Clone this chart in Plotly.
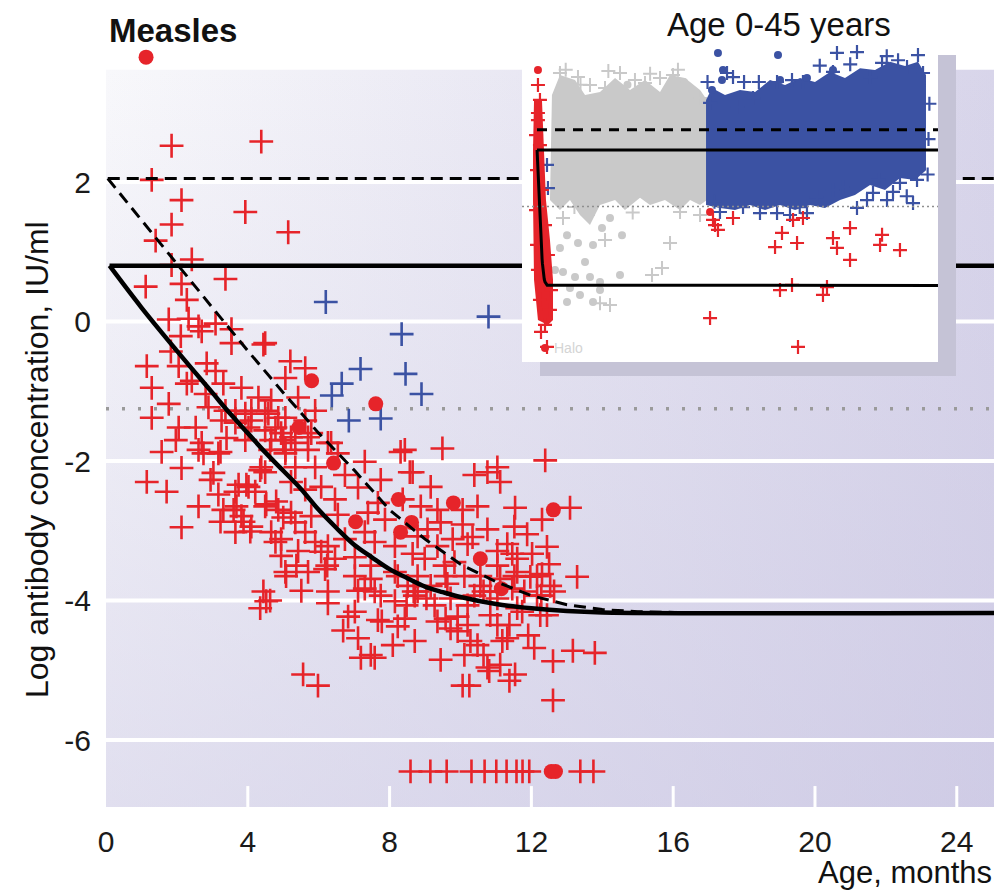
import plotly.graph_objects as go

FONT = "Liberation Sans, Arial, sans-serif"
RED = "#e6242a"
BLUE = "#3b52a3"
GRAY = "#c9c9c9"

# ---------------- main panel: (age in months, log antibody IU/ml) ----------------
cross_points = [
    (1.85, 2.52), (4.38, 2.58), (1.29, 2.03), (2.13, 1.74), (3.93, 1.57), (1.85, 1.39), (5.14, 1.28),
    (1.40, 1.16), (2.42, 0.89), (1.85, 0.81), (3.37, 0.61), (1.12, 0.50), (2.13, 0.54), (2.28, 0.31),
    (1.77, 0.03), (2.33, 0.04), (3.09, -0.03), (3.54, -0.11), (4.49, -0.31), (2.11, -0.21), (2.70, -0.14),
    (2.61, -0.07), (3.54, -0.31), (4.44, -0.33), (1.83, -0.43), (1.15, -0.64), (2.05, -0.64), (2.84, -0.60),
    (3.09, -0.71), (2.42, -0.85), (1.29, -0.95), (2.28, -0.89), (3.31, -0.89), (2.81, -1.04), (3.82, -0.95),
    (5.20, -0.57), (5.62, -0.67), (5.06, -0.81), (4.30, -1.09), (4.66, -1.13), (5.42, -1.09), (5.90, -1.28),
    (1.77, -1.18), (1.29, -1.38), (2.05, -1.52), (2.89, -1.23), (3.37, -1.28), (3.93, -1.32), (4.49, -1.28),
    (5.06, -1.38), (2.53, -1.52), (3.26, -1.42), (3.65, -1.45), (4.10, -1.42), (4.78, -1.52), (5.62, -1.42),
    (1.97, -1.70), (2.70, -1.74), (3.93, -1.70), (4.66, -1.70), (5.22, -1.66), (5.79, -1.60), (1.57, -1.87),
    (2.61, -1.84), (3.17, -1.89), (5.06, -1.84), (6.35, -1.74), (6.54, -1.89),
    (2.75, -1.89), (3.23, -1.87), (3.40, -1.67), (2.13, -2.10), (1.15, -2.30), (1.71, -2.44), (3.03, -2.17),
    (2.95, -2.27), (3.17, -2.48), (2.61, -2.65), (3.31, -2.70), (3.68, -2.65), (3.96, -2.34), (3.65, -2.44),
    (3.23, -2.87), (3.88, -2.87), (4.07, -3.01), (2.13, -2.95), (4.52, -2.62), (4.80, -2.58), (5.00, -2.81),
    (4.78, -3.16), (5.08, -3.65), (5.37, -3.50), (4.52, -4.01), (4.44, -3.87), (4.35, -2.13), (4.63, -1.84),
    (5.00, -1.70),
    (3.65, -1.28), (4.10, -1.28), (4.58, -1.32), (4.86, -1.38), (4.02, -1.52), (4.49, -1.56), (4.94, -1.60),
    (5.70, -1.66), (6.26, -1.74), (5.34, -1.74), (5.06, -1.89), (5.70, -1.84), (4.38, -2.09), (4.49, -2.16),
    (5.34, -2.09), (5.90, -2.09), (6.74, -2.20), (7.30, -2.01), (8.31, -1.87), (8.57, -2.16), (3.74, -2.34),
    (4.02, -2.37), (4.21, -2.44), (5.22, -2.30), (5.62, -2.41), (6.07, -2.37), (6.46, -2.55), (7.11, -2.38),
    (7.75, -2.27), (7.67, -2.60), (3.60, -2.70), (3.82, -2.79), (4.10, -2.94), (4.49, -2.65), (4.86, -2.70),
    (5.22, -2.74), (5.34, -2.88), (5.79, -2.79), (6.54, -2.77), (7.39, -2.74), (7.87, -2.84), (8.88, -2.65),
    (3.65, -3.02), (4.66, -3.02), (4.94, -3.12), (5.62, -3.02), (5.90, -3.16), (6.26, -3.22), (6.74, -3.12),
    (7.30, -3.02), (7.58, -3.16), (8.15, -3.22), (8.79, -3.08), (4.94, -3.36), (5.42, -3.29), (6.07, -3.30),
    (6.46, -3.40), (7.02, -3.38), (7.47, -3.50), (5.06, -3.59), (5.70, -3.59), (6.18, -3.55), (7.02, -3.65),
    (7.47, -3.69), (8.15, -3.59), (8.51, -3.79), (5.51, -3.86), (6.26, -3.87), (7.11, -3.86), (7.75, -3.93),
    (8.71, -3.93),
    (8.43, -1.84), (9.49, -1.82), (12.39, -1.99), (8.65, -2.16), (9.16, -2.37), (10.39, -2.20), (10.76, -2.16),
    (11.04, -2.09), (11.12, -2.30), (8.37, -2.55), (10.48, -2.65), (10.06, -2.70), (11.54, -2.67), (13.09, -2.67),
    (9.44, -2.88), (11.52, -2.94), (10.34, -3.09), (10.20, -3.19), (11.04, -3.29), (11.46, -3.33), (12.44, -3.23),
    (13.29, -3.66), (12.30, -3.62), (9.35, -3.22), (9.83, -3.45), (11.04, -3.50), (11.52, -3.65), (11.97, -3.66),
    (12.53, -3.79), (9.55, -3.50), (8.99, -3.40), (8.79, -3.65), (9.16, -3.79), (10.11, -3.65), (10.56, -3.79),
    (12.16, -3.93), (12.64, -3.87), (10.39, -3.93), (9.72, -3.97), (9.27, -4.07),
    (6.26, -4.04), (6.69, -4.43), (6.83, -4.23), (7.02, -4.16), (7.11, -4.54), (7.19, -4.82), (7.47, -4.78),
    (7.58, -4.82), (7.67, -4.28), (8.09, -4.64), (8.71, -4.58), (8.23, -4.37), (8.43, -4.26), (7.30, -3.83),
    (8.15, -4.01), (8.79, -3.87), (9.35, -4.30), (9.72, -4.40), (9.44, -4.85), (10.11, -4.78), (5.56, -5.06),
    (5.98, -5.22), (10.06, -5.22), (10.25, -5.22), (9.92, -4.23), (10.28, -4.58),
    (4.35, -4.11), (4.63, -4.00), (6.24, -3.50), (7.78, -4.30), (8.48, -4.07), (10.65, -4.78), (10.81, -5.01),
    (11.38, -5.15), (11.54, -5.06), (12.08, -4.68), (12.61, -4.87), (12.61, -5.43), (13.17, -4.72), (13.79, -4.75),
    (11.91, -4.50), (11.38, -4.35), (11.18, -4.58), (9.92, -4.44), (9.58, -4.26), (9.04, -3.97), (10.65, -3.87),
    (11.74, -4.16), (12.44, -4.21), (12.28, -3.93), (8.23, -3.65), (7.58, -3.87), (9.58, -3.65), (8.68, -3.87),
    (11.12, -4.92), (10.76, -4.96), (11.04, -4.35), (11.32, -4.54), (10.20, -4.35), (10.48, -4.64), (12.25, -4.21),
    (11.60, -4.11), (10.84, -4.21), (10.20, -4.07), (11.60, -3.59), (12.16, -3.65), (11.12, -3.69), (10.56, -3.65),
    (10.84, -3.87), (11.80, -3.87),
    (9.07, -2.98), (9.78, -3.12), (10.76, -2.98), (11.32, -3.19), (11.88, -3.05), (12.30, -2.84), (9.35, -2.70),
    (10.06, -2.91), (11.60, -3.40), (12.02, -3.33), (12.50, -3.48), (8.65, -3.33), (9.63, -3.76), (11.04, -3.97),
    (11.46, -3.83),
]
blue_cross_points = [
    (6.20, 0.28), (10.79, 0.07), (8.34, -0.18), (7.18, -0.68), (8.45, -0.75),
    (6.65, -0.89), (6.37, -1.06), (8.90, -1.04), (6.85, -1.42), (7.75, -1.39),
]
red_dot_points = [
    (5.80, -0.85), (7.61, -1.18), (5.44, -1.52), (6.42, -2.03), (8.25, -2.55), (8.62, -2.88), (8.31, -3.02),
    (7.04, -2.87), (9.80, -2.60), (12.62, -2.70), (10.56, -3.40), (11.15, -3.83),
]
measles_point = (1.13, 3.79)
undetectable_level = -6.45
undetectable_cross_age = [8.59, 9.15, 9.61, 10.31, 10.68, 11.01, 11.30, 11.58, 11.75, 11.94, 13.38, 13.75]
undetectable_dot_age = [12.56, 12.68]

curve_age = [0.1, 1, 2, 3, 3.5, 4, 4.5, 5, 5.5, 6, 6.5, 7, 7.5, 8, 8.5, 9, 9.5, 10, 11, 12, 13, 14, 25.05]
curve_log = [0.8, 0.2, -0.42, -1.02, -1.32, -1.6, -1.88, -2.14, -2.4, -2.7, -2.96, -3.2, -3.38, -3.55,
             -3.68, -3.8, -3.88, -3.95, -4.05, -4.11, -4.15, -4.17, -4.18]
dashed_age = [0.05, 1, 2, 3, 4, 5, 6, 7, 8, 9, 10, 11, 12, 13, 14, 15, 16.8]
dashed_log = [2.05, 1.45, 0.83, 0.2, -0.42, -1.02, -1.6, -2.13, -2.7, -3.12, -3.48, -3.73, -3.93, -4.06,
              -4.13, -4.16, -4.18]
upper_solid = 0.8
upper_dashed = 2.05
threshold = -1.25

x_ticks = [0, 4, 8, 12, 16, 20, 24]
y_ticks = [2, 0, -2, -4, -6]
y_tick_text = ["2", "0", "-2", "-4", "-6"]

# ---------------- inset: (age in years, log antibody) ----------------
gray_block = [
    (1.72, 2.82), (2.64, 3.56), (4.37, 3.37), (5.52, 2.82), (7.24, 2.93), (8.97, 3.45), (10.69, 3.01),
    (12.41, 3.37), (14.14, 2.93), (15.29, 3.56), (17.01, 3.45), (18.74, 3.01), (19.54, 2.64), (19.54, -1.04),
    (18.74, -1.22), (17.59, -1.04), (16.44, -1.41), (14.71, -1.04), (12.99, -1.22), (11.84, -0.96),
    (10.11, -1.41), (8.97, -1.04), (7.24, -1.22), (6.09, -1.96), (4.94, -1.59), (3.79, -1.04), (2.64, -1.41),
    (1.49, -1.04),
]
gray_dots = [
    (3.45, -2.33), (4.71, -2.62), (6.44, -2.69), (7.47, -2.07), (8.39, -1.70), (9.77, -2.33), (2.64, -2.80),
    (2.99, -3.69), (4.37, -3.87), (6.09, -3.87), (7.24, -4.05), (9.54, -3.80), (3.79, -4.27), (4.94, -4.53),
    (3.45, -4.79), (6.44, -4.79), (7.24, -4.35), (2.07, -3.61), (5.52, -3.32), (16.9, 3.3), (10.4, 3.2),
]
gray_crosses = [
    (2.99, -1.70), (5.86, -1.59), (7.82, -2.51), (15.29, -2.62), (13.22, -3.80), (14.37, -3.54), (7.24, -4.83),
    (16.44, -1.48), (18.74, -1.59), (8.39, -4.90), (2.64, 3.63), (4.71, 3.48), (9.54, 3.63), (11.26, 3.37),
    (12.41, 3.26), (14.14, 3.45), (15.63, 3.56), (17.24, 3.08), (18.74, 2.71), (6.09, 3.19), (7.82, 3.08),
    (3.3, 3.75), (5.0, 3.2), (8.2, 3.7), (13.0, 3.6), (16.2, 3.75), (11.0, -1.5), (4.3, -1.3),
]
blue_block = [
    (19.43, 2.64), (20.11, 3.08), (21.61, 2.82), (23.33, 3.01), (25.06, 2.93), (26.78, 3.37), (28.51, 3.19),
    (30.23, 3.45), (31.95, 3.30), (33.68, 3.67), (35.40, 3.45), (37.13, 3.81), (38.85, 3.74), (40.57, 4.04),
    (42.30, 3.89), (43.79, 4.04), (44.71, 3.56), (44.71, 0.06), (43.45, -0.30), (41.72, -0.23), (40.00, -0.67),
    (38.28, -0.49), (36.55, -0.85), (34.83, -1.04), (33.10, -1.33), (31.38, -1.22), (29.66, -1.41),
    (27.93, -1.22), (26.21, -1.41), (24.48, -1.22), (22.76, -1.41), (21.03, -1.33), (19.43, -1.22),
]
blue_crosses_inset = [
    (34.48, 4.37), (36.78, 4.40), (43.79, 4.29), (42.53, 3.85), (39.66, 4.00), (38.28, 3.48), (34.02, 3.67),
    (27.59, 3.30), (29.31, 3.37), (30.57, 3.30), (22.53, 3.48), (21.84, 3.63), (24.83, 2.71), (19.89, 2.53),
    (22.99, 2.38), (44.37, 3.63), (27.59, -1.52), (31.03, -1.52), (36.78, -1.33), (43.22, -1.15),
    (40.23, -1.04), (40.92, -0.74), (38.62, -0.78), (37.93, -1.04), (41.72, -0.41), (43.68, -0.30),
    (35.17, -0.56), (21.03, -1.48), (23.68, -1.30), (32.18, -0.93), (34.02, -0.67), (29.08, -1.59),
    (25.63, -1.52), (1.15, 0.25), (1.26, -0.60),
    (25.5, 3.3), (32.5, 3.9), (36.0, 3.95), (40.2, 4.25), (41.5, 4.1), (19.6, 3.3), (23.8, 3.3),
    (45.1, 2.5), (45.0, 1.2), (44.9, -0.1), (39.3, -0.3), (42.5, -0.9), (30.2, -1.3), (20.4, -1.1),
]
blue_dots_inset = [
    (20.80, 4.37), (27.70, 4.29), (21.38, 3.74), (21.26, 3.37), (20.11, 3.01), (27.93, 3.37), (31.03, 3.45),
    (34.02, 3.74),
]
red_block_inset = [
    (-0.34, 2.64), (0.57, 2.64), (0.80, 0.80), (1.03, -1.04), (1.49, -2.51), (1.84, -3.98), (1.84, -5.45),
    (1.26, -5.63), (0.11, -5.45), (-0.34, -3.98), (-0.46, -1.04), (-0.46, 0.80),
]
red_crosses_inset = [
    (0.11, 3.19), (0.34, 2.64), (0.11, 2.16), (0.11, 1.90), (-0.11, 1.35), (0.34, 0.98), (0.0, 0.06),
    (0.57, -0.67), (-0.11, -1.41), (0.92, -1.96), (0.0, -2.69), (1.26, -3.06), (0.11, -3.61), (1.61, -4.35),
    (0.34, -4.71), (1.49, -5.08), (0.92, -5.63), (0.46, -5.89), (1.15, -6.44),
    (20.23, -1.77), (20.46, -1.96), (20.80, -2.14), (22.53, -1.70), (29.43, -1.77), (30.57, -1.70),
    (28.16, -2.25), (27.36, -2.77), (29.89, -2.62), (34.02, -2.44), (34.48, -2.80), (35.98, -2.07),
    (35.98, -3.24), (39.66, -2.32), (39.43, -2.69), (41.72, -2.88), (27.93, -4.35), (29.31, -4.16),
    (32.87, -4.53), (33.33, -4.24), (19.89, -5.38), (30.00, -6.44),
]
red_dots_inset = [(0.11, 3.74), (19.89, -1.48), (0.92, -6.48)]
inset_dashed = 1.54
inset_upper = 0.8
inset_lower = -4.18
inset_threshold = -1.28
inset_age_max = 46.09

# ---------------- geometry ----------------
XMAX = 25.05
Y_TOP, Y_BOTTOM = 4.036, -6.96
BG_TOP = 3.61
IX_RANGE = [-1.724, 48.16]
IY_RANGE = [-7.509, 4.697]
BOX = dict(x0=-1.724, x1=46.09, y0=-6.994, y1=4.403)
SHADOW = dict(x0=0.345, x1=48.16, y0=-7.509, y1=4.293)


def unzip(points):
    return [p[0] for p in points], [p[1] for p in points]


def rect(d):
    return [d["x0"], d["x1"], d["x1"], d["x0"], d["x0"]], [d["y0"], d["y0"], d["y1"], d["y1"], d["y0"]]


def segments(values, a, b, horizontal=True):
    xs, ys = [], []
    for v in values:
        if horizontal:
            xs += [a, b, None]
            ys += [v, v, None]
        else:
            xs += [v, v, None]
            ys += [a, b, None]
    return xs, ys


fig = go.Figure()
sk = dict(hoverinfo="skip", showlegend=False)

# background gradient
fig.add_trace(go.Scatter(x=[0, XMAX, XMAX, 0, 0], y=[Y_BOTTOM, Y_BOTTOM, BG_TOP, BG_TOP, Y_BOTTOM],
                         fill="toself", mode="none",
                         fillgradient=dict(type="horizontal", start=0, stop=XMAX,
                                           colorscale=[[0, "#f8f8fb"], [1, "#d8d5ea"]]), **sk))
fig.add_trace(go.Scatter(x=[0, XMAX, XMAX, 0, 0], y=[Y_BOTTOM, Y_BOTTOM, BG_TOP, BG_TOP, Y_BOTTOM],
                         fill="toself", mode="none",
                         fillgradient=dict(type="vertical", start=Y_BOTTOM, stop=BG_TOP,
                                           colorscale=[[0, "rgba(196,192,224,0.45)"],
                                                       [1, "rgba(196,192,224,0)"]]), **sk))
# white grid lines and bottom ticks
gx, gy = segments(y_ticks, 0, XMAX)
fig.add_trace(go.Scatter(x=gx, y=gy, mode="lines", line=dict(color="white", width=4), **sk))
tx, ty = segments(x_ticks[1:], Y_BOTTOM, Y_BOTTOM + 0.3, horizontal=False)
fig.add_trace(go.Scatter(x=tx, y=ty, mode="lines", line=dict(color="white", width=3), **sk))
# threshold dotted
fig.add_trace(go.Scatter(x=[0, XMAX], y=[threshold, threshold], mode="lines",
                         line=dict(color="#9a9a9a", width=3.5, dash="3px,13px"), **sk))

cross_marker = dict(symbol="cross-thin", size=17, line=dict(color=RED, width=2.6))
cx, cy = unzip(cross_points)
fig.add_trace(go.Scatter(x=cx, y=cy, mode="markers", marker=cross_marker, **sk))
fig.add_trace(go.Scatter(x=undetectable_cross_age, y=[undetectable_level] * len(undetectable_cross_age),
                         mode="markers", marker=cross_marker, **sk))
bx, by = unzip(blue_cross_points)
fig.add_trace(go.Scatter(x=bx, y=by, mode="markers",
                         marker=dict(symbol="cross-thin", size=17, line=dict(color=BLUE, width=2.6)), **sk))
dx, dy = unzip(red_dot_points)
fig.add_trace(go.Scatter(x=dx + undetectable_dot_age + [measles_point[0]],
                         y=dy + [undetectable_level] * len(undetectable_dot_age) + [measles_point[1]],
                         mode="markers", marker=dict(symbol="circle", size=15, color=RED), cliponaxis=False, **sk))

# model lines
fig.add_trace(go.Scatter(x=[dashed_age[0], XMAX], y=[upper_dashed, upper_dashed], mode="lines",
                         line=dict(color="black", width=3, dash="12px,7px"), **sk))
fig.add_trace(go.Scatter(x=dashed_age, y=dashed_log, mode="lines",
                         line=dict(color="black", width=3, dash="12px,7px"), **sk))
fig.add_trace(go.Scatter(x=[curve_age[0], XMAX], y=[upper_solid, upper_solid], mode="lines",
                         line=dict(color="black", width=4.5), **sk))
fig.add_trace(go.Scatter(x=curve_age, y=curve_log, mode="lines", line=dict(color="black", width=4.5, shape="spline"), **sk))

# ---------------- inset ----------------
ik = dict(xaxis="x2", yaxis="y2", hoverinfo="skip", showlegend=False)
sx, sy = rect(SHADOW)
fig.add_trace(go.Scatter(x=sx, y=sy, fill="toself", fillcolor="#c5c3d6", mode="none", **ik))
wx, wy = rect(BOX)
fig.add_trace(go.Scatter(x=wx, y=wy, fill="toself", fillcolor="white", mode="none", **ik))

gbx, gby = unzip(gray_block + gray_block[:1])
fig.add_trace(go.Scatter(x=gbx, y=gby, fill="toself", fillcolor=GRAY, mode="none", **ik))
gdx, gdy = unzip(gray_dots)
fig.add_trace(go.Scatter(x=gdx, y=gdy, mode="markers", marker=dict(size=8, color=GRAY), **ik))
gcx, gcy = unzip(gray_crosses)
fig.add_trace(go.Scatter(x=gcx, y=gcy, mode="markers",
                         marker=dict(symbol="cross-thin", size=10, line=dict(color=GRAY, width=2)), **ik))

bbx, bby = unzip(blue_block + blue_block[:1])
fig.add_trace(go.Scatter(x=bbx, y=bby, fill="toself", fillcolor=BLUE, mode="none", **ik))
bcx, bcy = unzip(blue_crosses_inset)
fig.add_trace(go.Scatter(x=bcx, y=bcy, mode="markers",
                         marker=dict(symbol="cross-thin", size=10, line=dict(color=BLUE, width=2.2)), **ik))
bdx, bdy = unzip(blue_dots_inset)
fig.add_trace(go.Scatter(x=bdx, y=bdy, mode="markers", marker=dict(size=8, color=BLUE), **ik))

rbx, rby = unzip(red_block_inset + red_block_inset[:1])
fig.add_trace(go.Scatter(x=rbx, y=rby, fill="toself", fillcolor=RED, mode="none", **ik))
rcx, rcy = unzip(red_crosses_inset)
fig.add_trace(go.Scatter(x=rcx, y=rcy, mode="markers",
                         marker=dict(symbol="cross-thin", size=10, line=dict(color=RED, width=2.2)), **ik))
rdx, rdy = unzip(red_dots_inset)
fig.add_trace(go.Scatter(x=rdx, y=rdy, mode="markers", marker=dict(size=8, color=RED), **ik))

fig.add_trace(go.Scatter(x=[IX_RANGE[0], inset_age_max], y=[inset_threshold, inset_threshold], mode="lines",
                         line=dict(color="#8f8f8f", width=1.5, dash="2px,3px"), **ik))
fig.add_trace(go.Scatter(x=[0, inset_age_max], y=[inset_dashed, inset_dashed], mode="lines",
                         line=dict(color="black", width=3, dash="10px,8px"), **ik))
fig.add_trace(go.Scatter(x=[0, inset_age_max], y=[inset_upper, inset_upper], mode="lines",
                         line=dict(color="black", width=3), **ik))
inset_curve_x = [a / 12 for a in curve_age[:-1]] + [inset_age_max]
fig.add_trace(go.Scatter(x=inset_curve_x, y=curve_log[:-1] + [inset_lower], mode="lines",
                         line=dict(color="black", width=3), **ik))

# ---------------- layout ----------------
L, R, T, B = 106, 7, 40, 85
W, H = 1001, 892
pw, ph = W - L - R, H - T - B


def px_to_paper(px, py):
    return (px - L) / pw, (H - B - py) / ph


ix0, iy1 = px_to_paper(522, 44)
ix1, iy0 = px_to_paper(956, 376)

tick_font = dict(family=FONT, size=30, color="#1a1a1a")
fig.update_layout(
    width=W, height=H, margin=dict(l=L, r=R, t=T, b=B),
    paper_bgcolor="white", plot_bgcolor="rgba(0,0,0,0)",
    showlegend=False, hovermode=False,
    xaxis=dict(range=[0, XMAX], tickvals=x_ticks, ticktext=[str(v) for v in x_ticks], showgrid=False,
               zeroline=False, showline=False, ticks="", tickfont=tick_font, ticklabelstandoff=14,
               fixedrange=True),
    yaxis=dict(range=[Y_BOTTOM, Y_TOP], tickvals=y_ticks, ticktext=y_tick_text, showgrid=False,
               zeroline=False, showline=False, ticks="", tickfont=tick_font, ticklabelstandoff=14,
               fixedrange=True),
    xaxis2=dict(domain=[ix0, ix1], range=IX_RANGE, visible=False, anchor="y2", fixedrange=True),
    yaxis2=dict(domain=[iy0, iy1], range=IY_RANGE, visible=False, anchor="x2", fixedrange=True),
)

ann = []
mx, my = px_to_paper(173, 31)
ann.append(dict(text="<b>Measles</b>", x=mx, y=my, xref="paper", yref="paper", showarrow=False,
                xanchor="center", yanchor="middle", font=dict(family=FONT, size=33, color="#111")))
ax_, ay_ = px_to_paper(779, 24)
ann.append(dict(text="Age 0-45 years", x=ax_, y=ay_, xref="paper", yref="paper", showarrow=False,
                xanchor="center", yanchor="middle", font=dict(family=FONT, size=33, color="#111")))
hx, hy = px_to_paper(994, 872)
ann.append(dict(text="Age, months", x=hx, y=hy, xref="paper", yref="paper", showarrow=False,
                xanchor="right", yanchor="middle", font=dict(family=FONT, size=31, color="#111")))
vx, vy = px_to_paper(37, 460)
ann.append(dict(text="Log antibody concentration, IU/ml", x=vx, y=vy, xref="paper", yref="paper",
                showarrow=False, textangle=-90, xanchor="center", yanchor="middle",
                font=dict(family=FONT, size=32, color="#111")))
ann.append(dict(text="Halo", x=3.6, y=-6.48, xref="x2", yref="y2", showarrow=False,
                xanchor="center", yanchor="middle", font=dict(family=FONT, size=14, color="#d4d4d4")))
fig.update_layout(annotations=ann)

fig.write_html("out.html")
